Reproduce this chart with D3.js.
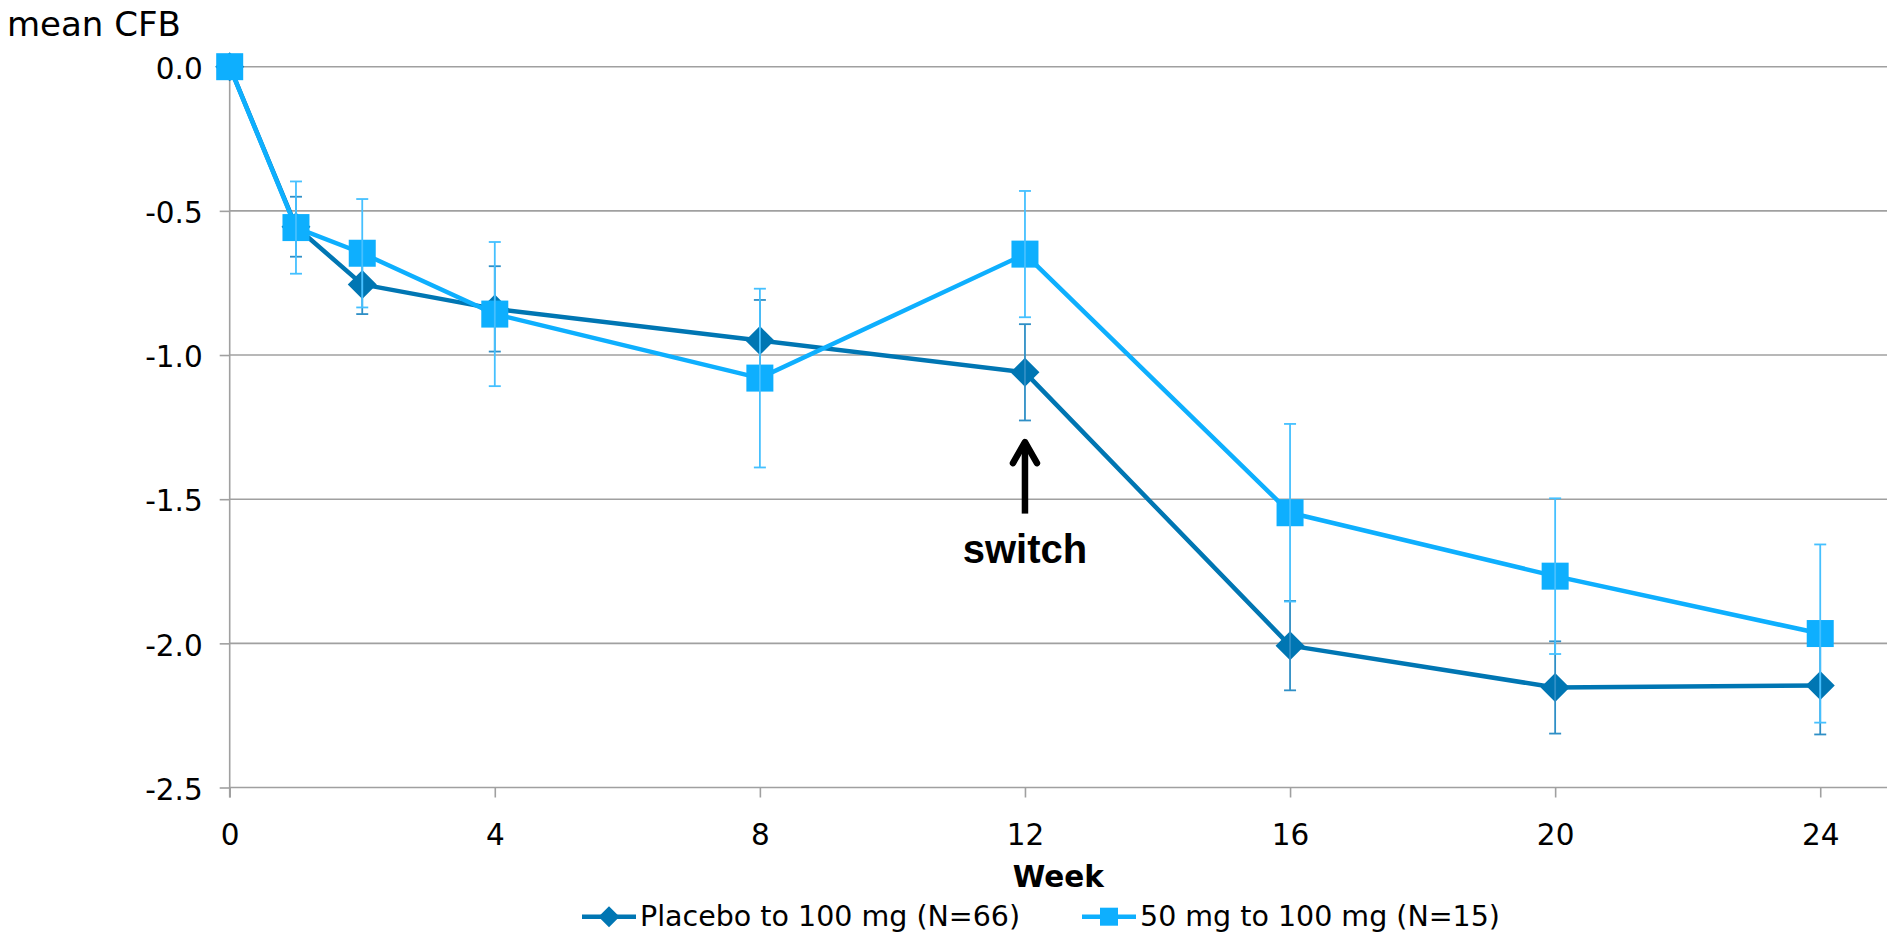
<!DOCTYPE html>
<html>
<head>
<meta charset="utf-8">
<script src="https://cdn.jsdelivr.net/npm/d3@7"></script>
<style>
  html, body { margin: 0; padding: 0; background: #fff; }
  svg { display: block; font-family: "DejaVu Sans", Verdana, sans-serif; }
</style>
</head>
<body>
<svg id="chart" width="1887" height="936"></svg>
<script>
// Mean change from baseline by study week, with error bars (±)
const weeks = [0, 1, 2, 4, 8, 12, 16, 20, 24];
const placeboMean = [0, -0.555, -0.755, -0.84, -0.95, -1.06, -2.008, -2.153, -2.146];
const placeboErr  = [0, 0.104, 0.103, 0.148, 0.141, 0.167, 0.155, 0.16, 0.17];
const drugMean    = [0, -0.558, -0.647, -0.858, -1.08, -0.65, -1.547, -1.767, -1.966];
const drugErr     = [0, 0.16, 0.188, 0.25, 0.31, 0.219, 0.308, 0.27, 0.309];
const seriesNames = ["Placebo to 100 mg (N=66)", "50 mg to 100 mg (N=15)"];
const xTicks = [0, 4, 8, 12, 16, 20, 24];
const yTicks = [0, -0.5, -1, -1.5, -2, -2.5];
const switchWeek = 12;

const W = 1887, H = 936;
const GRID = "#a0a0a0";
const DARK = "#0076b3", DARK_ERR = "#2f8fc6";
const LIGHT = "#0eaffe", LIGHT_ERR = "#45c0ff";

const x = d3.scaleLinear().domain([0, 25]).range([229.7, 1886.5]);
const y = d3.scaleLinear().domain([0, -2.5]).range([66.7, 787.5]);

const svg = d3.select("#chart");

// horizontal gridlines
svg.append("g").selectAll("line").data(yTicks).join("line")
  .attr("x1", x(0)).attr("x2", W)
  .attr("y1", d => y(d)).attr("y2", d => y(d))
  .attr("stroke", GRID).attr("stroke-width", 1.6);

// y axis
const yAxis = svg.append("g").attr("transform", `translate(${x(0)},0)`)
  .call(d3.axisLeft(y).tickValues(yTicks).tickFormat(d => d.toFixed(1))
    .tickSize(10).tickSizeOuter(0).tickPadding(17));
yAxis.select(".domain").remove();
yAxis.selectAll(".tick line").attr("stroke", GRID).attr("stroke-width", 1.6);
yAxis.selectAll(".tick text").attr("font-size", 29.5).attr("fill", "#000")
  .attr("dy", "0.4em").style("font-family", "DejaVu Sans, Verdana, sans-serif");
svg.append("line").attr("x1", x(0)).attr("x2", x(0))
  .attr("y1", y(0)).attr("y2", y(-2.5) + 10)
  .attr("stroke", GRID).attr("stroke-width", 1.6);

// x axis
const xAxis = svg.append("g").attr("transform", `translate(0,${y(-2.5)})`)
  .call(d3.axisBottom(x).tickValues(xTicks).tickFormat(d3.format("d"))
    .tickSize(10).tickSizeOuter(0).tickPadding(27));
xAxis.select(".domain").remove();
xAxis.selectAll(".tick line").attr("stroke", GRID).attr("stroke-width", 1.6);
xAxis.selectAll(".tick text").attr("font-size", 29.5).attr("fill", "#000")
  .style("font-family", "DejaVu Sans, Verdana, sans-serif");

// axis titles
svg.append("text").attr("x", 7).attr("y", 36)
  .attr("font-size", 34).attr("fill", "#000").text("mean CFB");
svg.append("text").attr("x", (x(0) + W) / 2).attr("y", 886.7)
  .attr("text-anchor", "middle").attr("font-size", 29.5).attr("font-weight", "bold")
  .attr("fill", "#000").text("Week");

const diamondPath = r => `M0,${-r}L${r},0L0,${r}L${-r},0Z`;

function drawSeries(means, errs, color, errColor, marker) {
  const pts = weeks.map((w, i) => ({ w, m: means[i], e: errs[i] }));
  const g = svg.append("g");
  g.append("path").datum(pts)
    .attr("d", d3.line().x(d => x(d.w)).y(d => y(d.m)))
    .attr("fill", "none").attr("stroke", color).attr("stroke-width", 4.5)
    .attr("stroke-linejoin", "round");
  if (marker === "diamond") {
    g.selectAll("path.mk").data(pts).join("path").attr("class", "mk")
      .attr("transform", d => `translate(${x(d.w)},${y(d.m)})`)
      .attr("d", diamondPath(14.5)).attr("fill", color);
  } else {
    g.selectAll("rect.mk").data(pts).join("rect").attr("class", "mk")
      .attr("x", d => x(d.w) - 13.5).attr("y", d => y(d.m) - 13.5)
      .attr("width", 27).attr("height", 27).attr("fill", color);
  }
  const eb = g.selectAll("g.eb").data(pts.filter(d => d.e > 0)).join("g").attr("class", "eb")
    .attr("stroke", errColor).attr("stroke-width", 1.8);
  eb.append("line").attr("x1", d => x(d.w)).attr("x2", d => x(d.w))
    .attr("y1", d => y(d.m + d.e)).attr("y2", d => y(d.m - d.e));
  eb.append("line").attr("x1", d => x(d.w) - 6).attr("x2", d => x(d.w) + 6)
    .attr("y1", d => y(d.m + d.e)).attr("y2", d => y(d.m + d.e));
  eb.append("line").attr("x1", d => x(d.w) - 6).attr("x2", d => x(d.w) + 6)
    .attr("y1", d => y(d.m - d.e)).attr("y2", d => y(d.m - d.e));
}

drawSeries(placeboMean, placeboErr, DARK, DARK_ERR, "diamond");
drawSeries(drugMean, drugErr, LIGHT, LIGHT_ERR, "square");

// "switch" annotation with upward arrow
const ax = x(switchWeek);
const tipY = y(-1.295), tailY = y(-1.55);
const ann = svg.append("g").attr("stroke", "#000").attr("stroke-width", 6.5).attr("fill", "none");
ann.append("line").attr("x1", ax).attr("x2", ax).attr("y1", tipY + 2).attr("y2", tailY);
ann.append("path")
  .attr("d", `M${ax - 12},${tipY + 23}L${ax},${tipY + 2}L${ax + 12},${tipY + 23}`)
  .attr("stroke-linecap", "round").attr("stroke-linejoin", "round");
svg.append("text").attr("x", ax).attr("y", y(-1.723))
  .attr("text-anchor", "middle").attr("font-size", 40).attr("font-weight", "bold")
  .style("font-family", "'Liberation Sans', Arial, sans-serif")
  .attr("fill", "#000").text("switch");

// legend
const legendItems = [
  { name: seriesNames[0], color: DARK, marker: "diamond", x0: 582 },
  { name: seriesNames[1], color: LIGHT, marker: "square", x0: 1082 }
];
const legY = 916.7;
const lg = svg.append("g");
legendItems.forEach(it => {
  lg.append("line").attr("x1", it.x0).attr("x2", it.x0 + 54)
    .attr("y1", legY).attr("y2", legY)
    .attr("stroke", it.color).attr("stroke-width", 4.5);
  if (it.marker === "diamond") {
    lg.append("path").attr("transform", `translate(${it.x0 + 27},${legY})`)
      .attr("d", diamondPath(10.5)).attr("fill", it.color);
  } else {
    lg.append("rect").attr("x", it.x0 + 27 - 9).attr("y", legY - 9)
      .attr("width", 18).attr("height", 18).attr("fill", it.color);
  }
  lg.append("text").attr("x", it.x0 + 58).attr("y", legY + 9)
    .attr("font-size", 28.5).attr("fill", "#000").text(it.name);
});
</script>
</body>
</html>
